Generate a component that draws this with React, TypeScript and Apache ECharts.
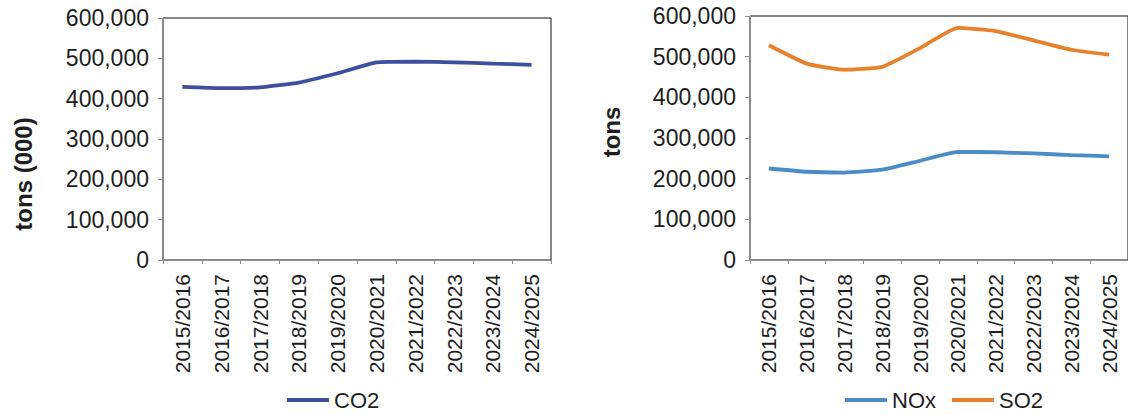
import React, { useEffect, useRef } from "react";
import * as echarts from "echarts";

// Reporting years shared by both panels
const categories = [
  "2015/2016",
  "2016/2017",
  "2017/2018",
  "2018/2019",
  "2019/2020",
  "2020/2021",
  "2021/2022",
  "2022/2023",
  "2023/2024",
  "2024/2025",
];

// CO2 emissions, tons (000)
const co2 = [429000, 426000, 428000, 440000, 463000, 490000, 492000, 490000, 487000, 484000];

// NOx and SO2 emissions, tons
const nox = [225000, 217000, 215000, 222000, 244000, 266000, 265000, 262000, 258000, 255000];
const so2 = [528000, 483000, 468000, 475000, 521000, 571000, 563000, 540000, 517000, 505000];

const yMax = 600000;
const yStep = 100000;

const FONT = "'Liberation Sans', Arial, Helvetica, sans-serif";
const TEXT = "#1e1e1e";
const AXIS = "#8e8e8e";

const COLOR_CO2 = "#3e4f9f";
const COLOR_NOX = "#4b8cc6";
const COLOR_SO2 = "#e8812a";

const fmt = (v: number) => v.toLocaleString("en-US");

function valueAxis(gridIndex: number) {
  return {
    type: "value",
    gridIndex,
    min: 0,
    max: yMax,
    interval: yStep,
    axisLine: { show: true, lineStyle: { color: AXIS, width: 1 } },
    axisTick: { show: true, inside: false, length: 5, lineStyle: { color: AXIS } },
    splitLine: { show: false },
    axisLabel: {
      formatter: (v: number) => fmt(v),
      fontFamily: FONT,
      fontSize: 23,
      color: TEXT,
      margin: 14,
    },
  };
}

function categoryAxis(gridIndex: number) {
  return {
    type: "category",
    gridIndex,
    data: categories,
    boundaryGap: true,
    axisLine: { show: true, onZero: false, lineStyle: { color: AXIS, width: 1 } },
    axisTick: { show: true, inside: false, length: 4, alignWithLabel: false, interval: 0, lineStyle: { color: AXIS } },
    splitLine: { show: false },
    axisLabel: {
      rotate: 90,
      interval: 0,
      fontFamily: FONT,
      fontSize: 21,
      color: TEXT,
      margin: 14,
    },
  };
}

function lineSeries(name: string, data: number[], color: string, idx: number) {
  return {
    name,
    type: "line",
    xAxisIndex: idx,
    yAxisIndex: idx,
    data,
    smooth: 0.15,
    showSymbol: false,
    symbol: "none",
    lineStyle: { color, width: 3.8 },
    itemStyle: { color },
  };
}

export default function App() {
  const ref = useRef<HTMLDivElement>(null);

  useEffect(() => {
    if (!ref.current) return;
    const chart = echarts.init(ref.current, undefined, { renderer: "svg" });

    const legendText = { fontFamily: FONT, fontSize: 22, color: TEXT, lineHeight: 22 };

    chart.setOption({
      animation: false,
      backgroundColor: "#ffffff",
      grid: [
        { left: 163, top: 18, width: 388, height: 242, show: true, borderColor: "#111", borderWidth: 1, backgroundColor: "transparent" },
        { left: 750, top: 16, width: 386, height: 244, show: true, borderColor: "#111", borderWidth: 1, backgroundColor: "transparent" },
      ],
      xAxis: [categoryAxis(0), categoryAxis(1)],
      yAxis: [valueAxis(0), valueAxis(1)],
      legend: [
        {
          data: ["CO2"],
          left: 287,
          top: 389,
          padding: 0,
          icon: "rect",
          itemWidth: 42,
          itemHeight: 4,
          itemGap: 16,
          textStyle: legendText,
        },
        {
          data: ["NOx", "SO2"],
          left: 845,
          top: 389,
          padding: 0,
          icon: "rect",
          itemWidth: 42,
          itemHeight: 4,
          itemGap: 16,
          textStyle: legendText,
        },
      ],
      graphic: [
        {
          type: "text",
          x: 23,
          y: 174,
          rotation: Math.PI / 2,
          style: {
            text: "tons (000)",
            font: `bold 24px ${FONT}`,
            fill: TEXT,
            textAlign: "center",
            textVerticalAlign: "middle",
          },
        },
        {
          type: "text",
          x: 611,
          y: 132,
          rotation: Math.PI / 2,
          style: {
            text: "tons",
            font: `bold 24px ${FONT}`,
            fill: TEXT,
            textAlign: "center",
            textVerticalAlign: "middle",
          },
        },
      ],
      series: [
        lineSeries("CO2", co2, COLOR_CO2, 0),
        lineSeries("NOx", nox, COLOR_NOX, 1),
        lineSeries("SO2", so2, COLOR_SO2, 1),
      ],
    });

    return () => chart.dispose();
  }, []);

  return (
    <div
      ref={ref}
      style={{ position: "fixed", left: 0, top: 0, width: 1128, height: 415, background: "#fff" }}
    />
  );
}
